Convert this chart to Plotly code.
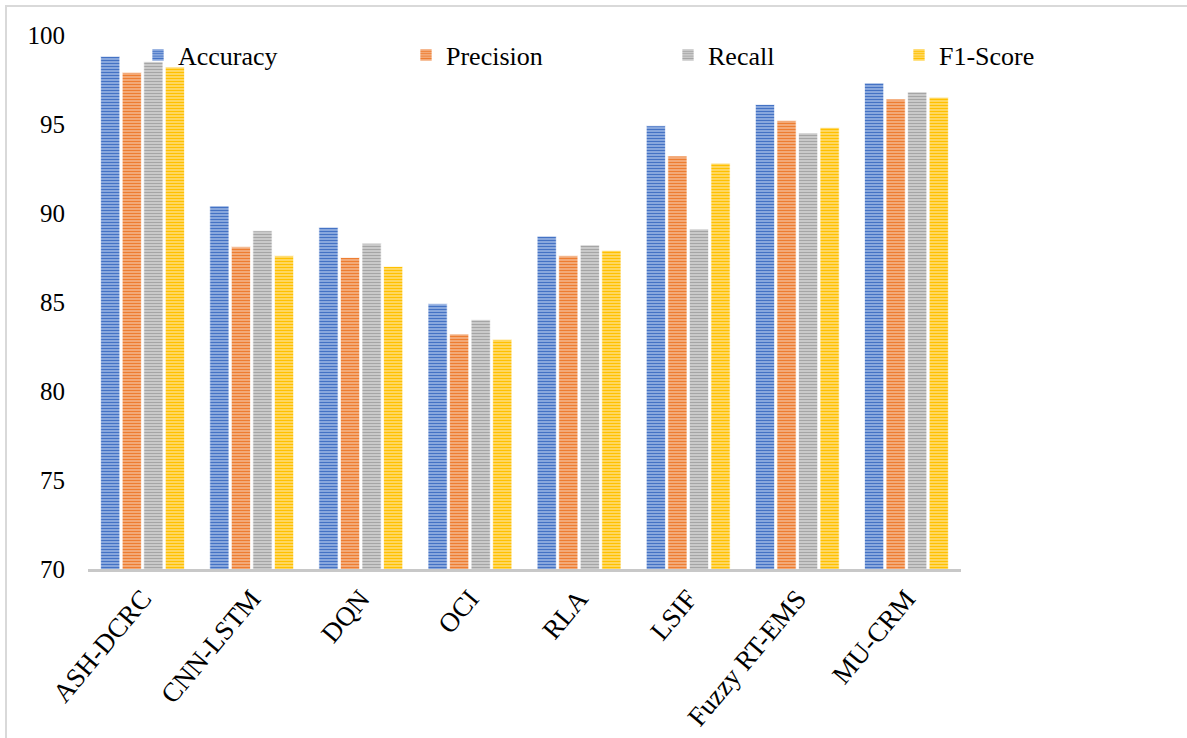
import plotly.graph_objects as go

categories = ["ASH-DCRC", "CNN-LSTM", "DQN", "OCI", "RLA", "LSIF", "Fuzzy RT-EMS", "MU-CRM"]
accuracy = [98.8, 90.4, 89.2, 84.9, 88.7, 94.9, 96.1, 97.3]
precision = [97.9, 88.1, 87.5, 83.2, 87.6, 93.2, 95.2, 96.4]
recall = [98.5, 89.0, 88.3, 84.0, 88.2, 89.1, 94.5, 96.8]
f1_score = [98.2, 87.6, 87.0, 82.9, 87.9, 92.8, 94.8, 96.5]
y_ticks = [70, 75, 80, 85, 90, 95, 100]

series = [
    ("Accuracy", accuracy, "#4472C4", "#A9C0EA"),
    ("Precision", precision, "#ED7D31", "#F6BE98"),
    ("Recall", recall, "#A5A5A5", "#DADADA"),
    ("F1-Score", f1_score, "#FFC000", "#FFE38A"),
]

W, H = 1187, 738
L, R, T, B = 88, W - 961, 35, H - 569
pw, ph = W - L - R, H - T - B

def px_x(px):
    return (px - L) / pw

def px_y(py):
    return (H - B - py) / ph

font_family = "Liberation Serif, Times New Roman, serif"

fig = go.Figure()
legend_names = ["legend", "legend2", "legend3", "legend4"]
legend_text_x = [178, 446, 708, 939]

for (name, vals, fg, bg), lg in zip(series, legend_names):
    fig.add_trace(go.Bar(
        name=name,
        x=categories,
        y=vals,
        legend=lg,
        marker=dict(
            color=bg,
            line=dict(color="rgba(255,255,255,0.7)", width=1),
            pattern=dict(shape="-", fgcolor=fg, bgcolor=bg, size=3, solidity=0.55, fillmode="replace"),
        ),
    ))

layout_legends = {}
for lg, tx in zip(legend_names, legend_text_x):
    layout_legends[lg] = dict(
        x=px_x(tx - 40), y=px_y(55), xanchor="left", yanchor="middle",
        orientation="h", bgcolor="rgba(0,0,0,0)",
        font=dict(family=font_family, size=26, color="#000000"),
        itemclick=False, itemdoubleclick=False,
    )

fig.update_layout(
    width=W, height=H,
    margin=dict(l=L, r=R, t=T, b=B, autoexpand=False),
    paper_bgcolor="white", plot_bgcolor="white",
    barmode="group", bargap=0.21, bargroupgap=0.11,
    showlegend=True,
    font=dict(family=font_family, color="#000000"),
    xaxis=dict(
        showline=True, linecolor="#C8C8C8", linewidth=3,
        showgrid=False, ticks="", tickangle=-50, automargin=False,
        tickfont=dict(family=font_family, size=27, color="#000000"),
    ),
    yaxis=dict(
        range=[70, 100], tickvals=y_ticks, showgrid=False, zeroline=False,
        showline=False, ticks="", ticklabelstandoff=22, automargin=False,
        tickfont=dict(family=font_family, size=25, color="#000000"),
    ),
    shapes=[dict(
        type="rect", xref="paper", yref="paper",
        x0=px_x(6), x1=px_x(1195), y0=px_y(745), y1=px_y(6),
        line=dict(color="#D9D9D9", width=2), fillcolor="rgba(0,0,0,0)", layer="below",
    )],
    **layout_legends,
)

fig.write_html("out.html")
